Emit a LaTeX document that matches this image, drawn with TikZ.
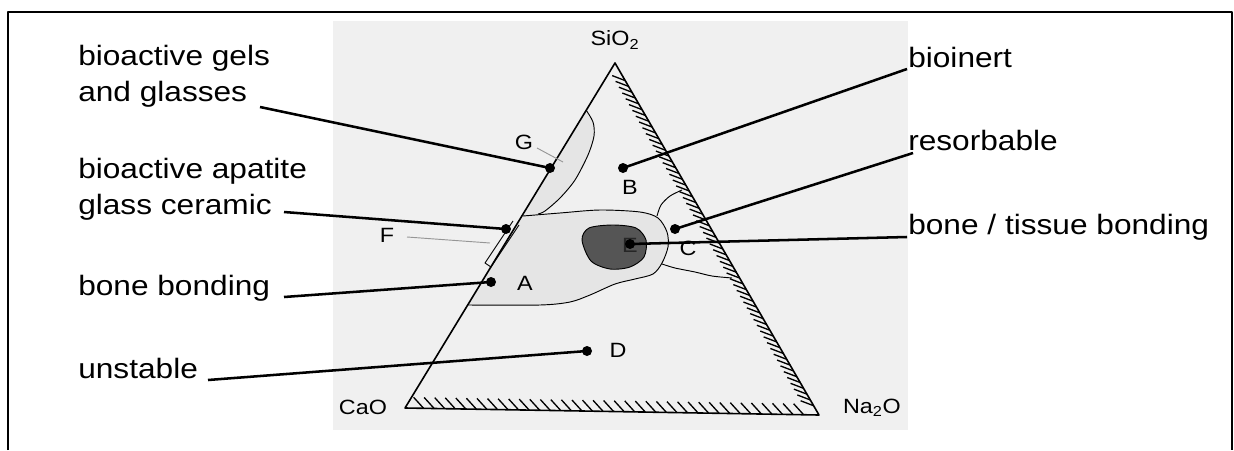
\documentclass[tikz,border=0pt]{standalone}
\usepackage{fontspec}
\setmainfont{Liberation Sans}[FakeStretch=1.13]
\usetikzlibrary{calc}
\definecolor{scanbg}{RGB}{240,240,240}
\definecolor{regbg}{RGB}{229,229,229}
\definecolor{darkreg}{RGB}{85,85,85}
\definecolor{faint}{RGB}{150,150,150}
\begin{document}
\begin{tikzpicture}[x=0.75pt,y=-0.75pt, line join=round,
  lbl/.style={font=\fontsize{21}{26.5}\selectfont, anchor=base west, inner sep=0pt, align=left},
  lead/.style={line width=1.9pt},
  dot/.style={circle, fill=black, inner sep=0pt, minimum size=7.5pt},
  scan/.style={font=\fontsize{15.5}{18}\selectfont, inner sep=0pt},
  edgeline/.style={line width=1.2pt},
  thinline/.style={line width=0.7pt},
  hatchline/.style={line width=1pt}]
\useasboundingbox (0,0) rectangle (1234,450);
% frame
\draw[line width=1.2pt] (8,450) -- (8,12) -- (1232,12) -- (1232,450);
% scanned background
\fill[scanbg] (333,21) rectangle (908,430);
% triangle corners
\coordinate (top) at (615,63);
\coordinate (cl) at (405,408);
\coordinate (cr) at (819,415);
% region A (light)
\fill[regbg] plot[smooth] coordinates {(523,216) (560,213) (600,210) (640,212) (658,218) (667,232) (668,247) (662,263) (653,274) (635,279) (615,284) (590,295) (570,302) (540,305) (468,305)} -- cycle;
% region G (light)
\fill[regbg] plot[smooth] coordinates {(586,110) (593,122) (594,136) (588,155) (575,180) (560,198) (545,211) (538,214)} -- (523,216) -- cycle;
\draw[thinline] plot[smooth] coordinates {(586,110) (593,122) (594,136) (588,155) (575,180) (560,198) (545,211) (538,214)};
\draw[thinline] plot[smooth] coordinates {(523,216) (560,213) (600,210) (640,212) (658,218) (667,232) (668,247) (662,263) (653,274) (635,279) (615,284) (590,295) (570,302) (540,305) (468,305)};
% region C boundaries
\draw[thinline] plot[smooth] coordinates {(657,216) (661,205) (670,196) (682,190)};
\draw[thinline] plot[smooth] coordinates {(662,264) (675,268) (695,272) (712,276) (732,278)};
% region E (dark)
\draw[thinline, fill=darkreg] plot[smooth cycle] coordinates {(582,240) (589,228) (613,225) (636,228) (646,240) (644,257) (630,267) (610,269) (591,261)};
% F box
\draw[thinline] (519,225) -- (491,267) -- (485,263) -- (513,221);
% triangle
\draw[edgeline] (top) -- (cl) -- (cr) -- cycle;
% hatching
\foreach \t in {0.05,0.0665,...,0.99} {
  \draw[hatchline] ($(top)!\t!(cr)$) -- ++(-13,-5);
}
\foreach \t in {0.045,0.0705,...,0.985} {
  \draw[hatchline] ($(cl)!\t!(cr)$) -- ++(-10,-11);
}
% scan labels
\node[scan] (sio) at (615,40) {SiO\textsubscript{2}};
\node[scan] (cao) at (363,407) {CaO};
\node[scan] (nao) at (872,408) {Na\textsubscript{2}O};
\node[scan] (lA) at (525,283) {A};
\node[scan] (lB) at (630,187) {B};
\node[scan] (lC) at (688,248) {C};
\node[scan] (lD) at (618,350) {D};
\node[scan, text=black!85] (lE) at (630,245) {E};
\node[scan] (lF) at (387,235) {F};
\node[scan] (lG) at (524,142) {G};
\coordinate (f1) at (407,237);
\coordinate (f2) at (490,243);
\draw[faint, thinline] (f1) -- (f2);
\coordinate (g1) at (537,148);
\coordinate (g2) at (563,162);
\draw[faint, thinline] (g1) -- (g2);
% labels (base anchor = baseline of last line)
\node[lbl] (tgels) at (78,101) {bioactive gels\\and glasses};
\node[lbl] (tapa) at (78,214) {bioactive apatite\\glass ceramic};
\node[lbl] (tbone) at (78,295) {bone bonding};
\node[lbl] (tuns) at (78,378) {unstable};
\node[lbl] (tinert) at (908,67) {bioinert};
\node[lbl] (tres) at (908,150) {resorbable};
\node[lbl] (ttis) at (908,234) {bone / tissue bonding};
% dots
\node[dot] (dgels) at (550,168) {};
\node[dot] (dapa) at (506,229) {};
\node[dot] (dbone) at (491,282) {};
\node[dot] (duns) at (587,351) {};
\node[dot] (dinert) at (623,168) {};
\node[dot] (dres) at (675,229) {};
\node[dot] (dtis) at (630,244) {};
% leader start points
\coordinate (sgels) at (260,107);
\coordinate (sapa) at (284,212);
\coordinate (sbone) at (284,297);
\coordinate (suns) at (208,380);
\coordinate (sinert) at (907,69);
\coordinate (sres) at (913,153);
\coordinate (stis) at (907,237);
\draw[lead] (sgels) -- (dgels.center);
\draw[lead] (sapa) -- (dapa.center);
\draw[lead] (sbone) -- (dbone.center);
\draw[lead] (suns) -- (duns.center);
\draw[lead] (sinert) -- (dinert.center);
\draw[lead] (sres) -- (dres.center);
\draw[lead] (stis) -- (dtis.center);
\end{tikzpicture}
\end{document}
